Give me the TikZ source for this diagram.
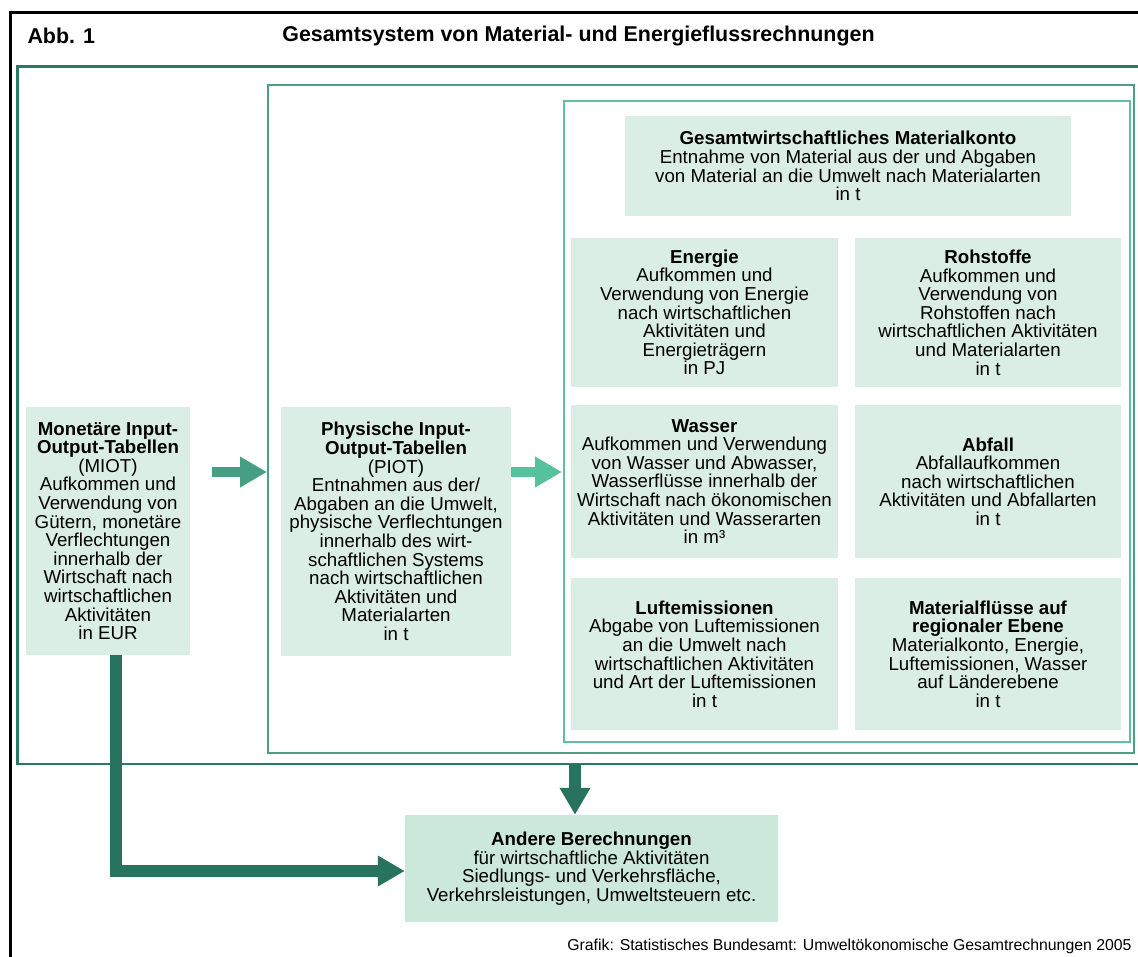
\documentclass[tikz,border=0pt]{standalone}
\usepackage{fontspec}
\setmainfont{Liberation Sans}
\usetikzlibrary{arrows.meta}
\definecolor{boxfill}{HTML}{DAEEE5}
\definecolor{boxfillB}{HTML}{CBE8DB}
\definecolor{darkg}{HTML}{2A7A62}
\definecolor{midg}{HTML}{4A9F84}
\definecolor{lightg}{HTML}{5CC29F}
\definecolor{arrdark}{HTML}{27735D}
\definecolor{arrmid}{HTML}{45A083}
\definecolor{arrlight}{HTML}{55C19D}
\begin{document}
\begin{tikzpicture}[x=1pt,y=-1pt,
  box/.style={fill=boxfill, align=center, inner sep=0pt, font={\fontsize{18.7}{18.6}\selectfont}},
  fatarrow/.style={line width=10pt, -{Triangle[length=27pt,width=29pt]}},
  head/.style={font={\bfseries\fontsize{21.4}{24}\selectfont}},
]
\useasboundingbox (0,0) rectangle (1138,956);
\begin{scope}
  \clip (0,0) rectangle (1138,956);
  \draw[line width=3pt] (10,12) rectangle (1170,990);
  \draw[darkg, line width=2.5pt] (17.5,66.5) rectangle (1170,764);
\end{scope}
\draw[midg, line width=2pt] (268,84.5) rectangle (1134,753);
\draw[lightg, line width=2pt] (563.5,100.5) rectangle (1129.5,742);

\node[head, anchor=west] (abb) at (24,36) {Abb. 1};
\node[head] (title) at (578.5,36) {Gesamtsystem von Material- und Energieflussrechnungen};

\node[box, minimum width=164pt, minimum height=248pt] (miot) at (108,531) {%
\textbf{Monetäre Input-}\\\textbf{Output-Tabellen}\\(MIOT)\\Aufkommen und\\Verwendung von\\Gütern, monetäre\\Verflechtungen\\innerhalb der\\Wirtschaft nach\\wirtschaftlichen\\Aktivitäten\\in EUR};

\node[box, minimum width=230pt, minimum height=249pt] (piot) at (396,531.5) {%
\textbf{Physische Input-}\\\textbf{Output-Tabellen}\\(PIOT)\\Entnahmen aus der/\\Abgaben an die Umwelt,\\physische Verflechtungen\\innerhalb des wirt-\\schaftlichen Systems\\nach wirtschaftlichen\\Aktivitäten und\\Materialarten\\in t};

\node[box, minimum width=446pt, minimum height=100pt] (gesamt) at (848,166) {%
\textbf{Gesamtwirtschaftliches Materialkonto}\\Entnahme von Material aus der und Abgaben\\von Material an die Umwelt nach Materialarten\\in t};

\node[box, minimum width=267pt, minimum height=149pt] (energie) at (704.5,312.5) {%
\textbf{Energie}\\Aufkommen und\\Verwendung von Energie\\nach wirtschaftlichen\\Aktivitäten und\\Energieträgern\\in PJ};

\node[box, minimum width=266pt, minimum height=149pt] (rohstoffe) at (988,312.5) {%
\textbf{Rohstoffe}\\Aufkommen und\\Verwendung von\\Rohstoffen nach\\wirtschaftlichen Aktivitäten\\und Materialarten\\in t};

\node[box, minimum width=267pt, minimum height=153pt] (wasser) at (704.5,481.5) {%
\textbf{Wasser}\\Aufkommen und Verwendung\\von Wasser und Abwasser,\\Wasserflüsse innerhalb der\\Wirtschaft nach ökonomischen\\Aktivitäten und Wasserarten\\in m³};

\node[box, minimum width=266pt, minimum height=153pt] (abfall) at (988,481.5) {%
\textbf{Abfall}\\Abfallaufkommen\\nach wirtschaftlichen\\Aktivitäten und Abfallarten\\in t};

\node[box, minimum width=267pt, minimum height=152pt] (luft) at (704.5,654) {%
\textbf{Luftemissionen}\\Abgabe von Luftemissionen\\an die Umwelt nach\\wirtschaftlichen Aktivitäten\\und Art der Luftemissionen\\in t};

\node[box, minimum width=266pt, minimum height=152pt] (regional) at (988,654) {%
\textbf{Materialflüsse auf}\\\textbf{regionaler Ebene}\\Materialkonto, Energie,\\Luftemissionen, Wasser\\auf Länderebene\\in t};

\node[box, fill=boxfillB, minimum width=373pt, minimum height=107pt] (andere) at (591.5,868.5) {%
\textbf{Andere Berechnungen}\\für wirtschaftliche Aktivitäten\\Siedlungs- und Verkehrsfläche,\\Verkehrsleistungen, Umweltsteuern etc.};

\node[anchor=base east, font={\fontsize{15.8}{18}\selectfont}] (credit) at (1135,950) {Grafik: Statistisches Bundesamt: Umweltökonomische Gesamtrechnungen 2005};

% arrows
\coordinate (a1s) at (212,472);
\coordinate (a1e) at (267,472);
\coordinate (a2s) at (511,472);
\coordinate (a2e) at (562,472);
\coordinate (dtop) at (575,764);
\draw[fatarrow, arrmid, line width=9.5pt] (a1s) -- (a1e);
\draw[fatarrow, arrlight, line width=9.5pt] (a2s) -- (a2e);
\draw[fatarrow, arrdark, line width=12pt] (dtop) -- (dtop |- andere.north);
\draw[fatarrow, arrdark, line width=12pt] ([xshift=8pt]miot.south) |- ([yshift=-2.5pt]andere.west);
\end{tikzpicture}
\end{document}
